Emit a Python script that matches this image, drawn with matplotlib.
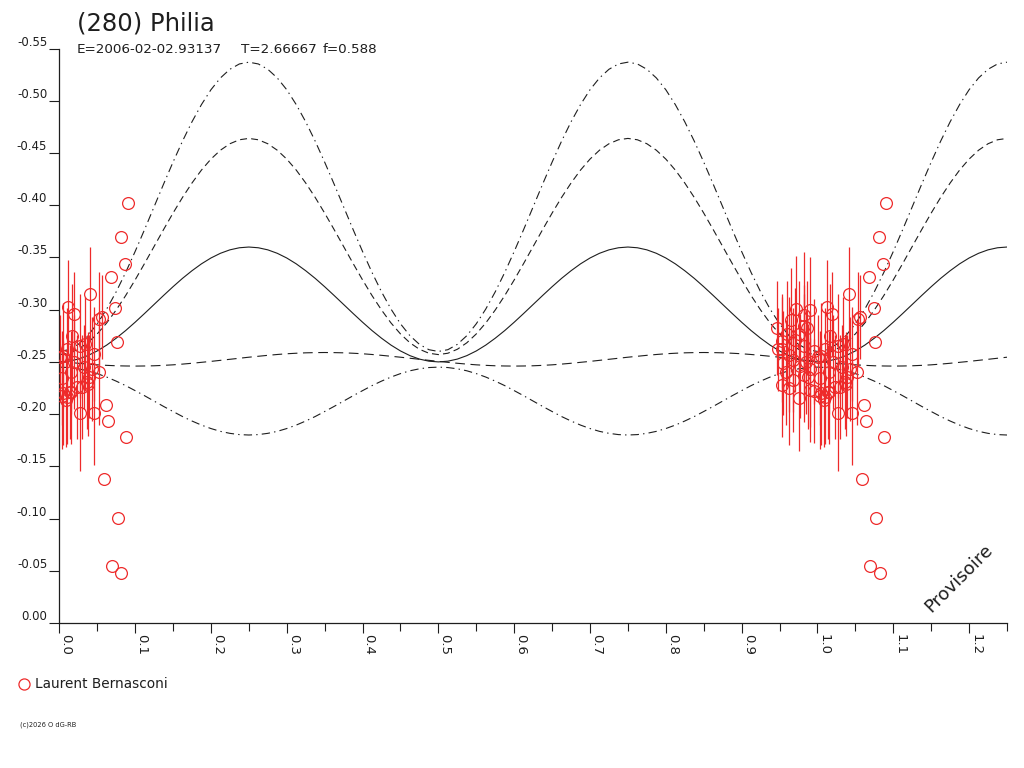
import numpy as np
import matplotlib
matplotlib.use("Agg")
import matplotlib.pyplot as plt
from matplotlib.lines import Line2D

plt.rcParams['font.family'] = ['DejaVu Sans']
plt.rcParams['lines.scale_dashes'] = False

ink = '#1e1e1e'
red = '#ee2a2a'

# model curves, first half of one period (phase 0 .. 0.25, step 0.0125); the plot period is 0.5
solid_half = [-0.2500, -0.2507, -0.2527, -0.2560, -0.2605, -0.2661, -0.2727, -0.2800, -0.2880, -0.2964,
              -0.3050, -0.3136, -0.3220, -0.3300, -0.3373, -0.3439, -0.3495, -0.3540, -0.3573, -0.3593, -0.3600]
dash_half = [-0.2570, -0.2583, -0.2621, -0.2683, -0.2768, -0.2873, -0.2997, -0.3135, -0.3285, -0.3443,
             -0.3605, -0.3767, -0.3925, -0.4075, -0.4213, -0.4337, -0.4442, -0.4527, -0.4589, -0.4627, -0.4640]
dashdot_half = [-0.2600, -0.2617, -0.2668, -0.2751, -0.2865, -0.3006, -0.3171, -0.3356, -0.3557, -0.3768,
                -0.3985, -0.4202, -0.4413, -0.4614, -0.4799, -0.4964, -0.5106, -0.5219, -0.5302, -0.5353, -0.5370]
low_dashdot_half = [-0.2450, -0.2446, -0.2434, -0.2415, -0.2388, -0.2355, -0.2316, -0.2273, -0.2225, -0.2176,
                    -0.2125, -0.2074, -0.2025, -0.1977, -0.1934, -0.1895, -0.1862, -0.1835, -0.1816, -0.1804, -0.1800]
# this one is not symmetric, so the whole period (0 .. 0.4875)
flat_dash_per = [-0.2505, -0.2496, -0.2487, -0.2479, -0.2472, -0.2467, -0.2463, -0.2461, -0.2460, -0.2461,
                 -0.2463, -0.2467, -0.2472, -0.2479, -0.2487, -0.2496, -0.2505, -0.2515, -0.2525, -0.2535,
                 -0.2545, -0.2554, -0.2563, -0.2571, -0.2578, -0.2583, -0.2587, -0.2589, -0.2590, -0.2589,
                 -0.2587, -0.2583, -0.2578, -0.2571, -0.2563, -0.2554, -0.2545, -0.2535, -0.2525, -0.2515]

# observations (phase, mag, error) - Laurent Bernasconi
obs_phase = [0.012, 0.019, 0.041, 0.056, 0.053, 0.017, 0.005, 0.034, 0.027, 0.043,
             0.052, 0.003, 0.023, 0.036, 0.005, 0.014, 0.030, 0.038, 0.027, 0.046,
             0.009, 0.001, 0.010, 0.020, 0.032, 0.046, 0.015, 0.039, 0.004, 0.010, 0.015,
             0.972, 0.982, 0.990, 0.946, 0.960, 0.975, 0.982, 0.986, 0.953, 0.971,
             0.982, 0.953, 0.962, 0.968, 0.955, 0.977, 0.990, 0.953, 0.962, 0.968,
             0.988, 0.995, 0.990, 0.982, 0.948, 0.958, 0.975, 0.995, 0.965, 0.985,
             0.091, 0.081, 0.087, 0.068, 0.074, 0.076, 0.062, 0.064, 0.088, 0.059,
             0.077, 0.069, 0.082]
obs_mag = [-0.303, -0.296, -0.315, -0.293, -0.291, -0.275, -0.256, -0.267, -0.265, -0.243,
           -0.240, -0.235, -0.226, -0.231, -0.220, -0.221, -0.226, -0.229, -0.201, -0.201,
           -0.214, -0.255, -0.262, -0.250, -0.245, -0.258, -0.240, -0.236, -0.217, -0.216, -0.221,
           -0.301, -0.295, -0.300, -0.282, -0.277, -0.277, -0.284, -0.282, -0.270, -0.271,
           -0.265, -0.262, -0.257, -0.252, -0.249, -0.246, -0.243, -0.228, -0.225, -0.233,
           -0.236, -0.222, -0.223, -0.237, -0.262, -0.240, -0.215, -0.260, -0.290, -0.250,
           -0.402, -0.370, -0.344, -0.331, -0.302, -0.269, -0.209, -0.193, -0.178, -0.138,
           -0.101, -0.055, -0.048]
obs_err = [0.045, 0.040, 0.045, 0.040, 0.045, 0.050, 0.050, 0.045, 0.050, 0.050,
           0.050, 0.045, 0.050, 0.045, 0.050, 0.045, 0.050, 0.050, 0.055, 0.050,
           0.045, 0.040, 0.040, 0.045, 0.040, 0.045, 0.040, 0.040, 0.050, 0.045, 0.050,
           0.050, 0.060, 0.050, 0.045, 0.050, 0.050, 0.040, 0.045, 0.045, 0.050,
           0.050, 0.050, 0.055, 0.050, 0.050, 0.050, 0.055, 0.050, 0.055, 0.050,
           0.050, 0.050, 0.050, 0.045, 0.040, 0.050, 0.050, 0.050, 0.050, 0.050,
           0, 0, 0, 0, 0, 0, 0, 0, 0, 0, 0, 0, 0]

y_ticks = [0.0, -0.05, -0.10, -0.15, -0.20, -0.25, -0.30, -0.35, -0.40, -0.45, -0.50, -0.55]
y_labels = ['0.00', '-0.05', '-0.10', '-0.15', '-0.20', '-0.25', '-0.30', '-0.35', '-0.40', '-0.45', '-0.50', '-0.55']
x_ticks = [0.0, 0.1, 0.2, 0.3, 0.4, 0.5, 0.6, 0.7, 0.8, 0.9, 1.0, 1.1, 1.2]
x_labels = ['0.0', '0.1', '0.2', '0.3', '0.4', '0.5', '0.6', '0.7', '0.8', '0.9', '1.0', '1.1', '1.2']

fig = plt.figure(figsize=(10.24, 7.68), dpi=100)
ax = fig.add_axes([59.3/1024, 1-623/768, (1007-59.3)/1024, (623-48.6)/768])

# curves: the period repeated over 0 .. 1.25
ph = np.arange(101)*0.0125
def full(half=None, per=None):
    if per is None:
        per = list(half) + list(half[-2:0:-1])
    return np.tile(per, 3)[:101]

ax.plot(ph, full(solid_half), color=ink, lw=0.8)
ax.plot(ph, full(dash_half), color=ink, lw=0.8, dashes=(5, 3))
ax.plot(ph, full(dashdot_half), color=ink, lw=0.8, dashes=(6, 3, 1, 3))
ax.plot(ph, full(low_dashdot_half), color=ink, lw=0.8, dashes=(6, 3, 1, 3))
ax.plot(ph, full(per=flat_dash_per), color=ink, lw=0.8, dashes=(7, 4))

# observations, shown at phase and phase+1
p = np.array(obs_phase)
m = np.array(obs_mag)
e = np.array(obs_err)
for shift in (0.0, 1.0):
    pp = p + shift
    k = (pp >= 0) & (pp <= 1.25)
    ax.errorbar(pp[k], m[k], yerr=e[k], fmt='none', ecolor=red, elinewidth=0.9, capsize=0, zorder=3)
    ax.plot(pp[k], m[k], 'o', ms=8.5, mfc='none', mec=red, mew=0.9, zorder=4)

ax.set_xlim(0, 1.25)
ax.set_ylim(0.0, -0.55)
for s in ('top', 'right'):
    ax.spines[s].set_visible(False)
for s in ('left', 'bottom'):
    ax.spines[s].set_color(ink)
    ax.spines[s].set_linewidth(0.9)

ax.set_yticks(y_ticks)
ax.set_yticklabels(y_labels, fontsize=8.5, color=ink)
for t in ax.get_yticklabels():
    t.set_verticalalignment('bottom')
ax.tick_params(axis='y', direction='out', length=7.2, width=0.8, color=ink, pad=1.5)

ax.set_xticks(x_ticks)
ax.set_xticks(np.arange(0.05, 1.26, 0.1), minor=True)
ax.set_xticklabels(x_labels, fontsize=9.5, color=ink, rotation=-90, ha='left', va='top')
ax.tick_params(axis='x', which='major', direction='out', length=7.2, width=0.8, color=ink, pad=0.5)
ax.tick_params(axis='x', which='minor', direction='out', length=6, width=0.8, color=ink)

ax.text(1.186, -0.043, 'Provisoire', fontsize=13, color=ink, rotation=45,
        ha='center', va='center', rotation_mode='anchor')

# header
fig.text(77/1024, 1-30/768, '(280) Philia', fontsize=17.5, color=ink, va='baseline')
fig.text(77/1024, 1-53/768, 'E=2006-02-02.93137', fontsize=9.7, color=ink, va='baseline')
fig.text(241/1024, 1-53/768, 'T=2.66667', fontsize=9.7, color=ink, va='baseline')
fig.text(323/1024, 1-53/768, 'f=0.588', fontsize=9.7, color=ink, va='baseline')

# legend
fig.add_artist(Line2D([24/1024], [1-684/768], marker='o', ms=8, mfc='none', mec=red, mew=0.9,
                      transform=fig.transFigure))
fig.text(35/1024, 1-684/768, 'Laurent Bernasconi', fontsize=9.8, color=ink, va='center')

fig.text(20/1024, 1-725/768, '(c)2026 O dG-RB', fontsize=4.8, color=ink, va='center')

fig.savefig('out.png', dpi=100)
